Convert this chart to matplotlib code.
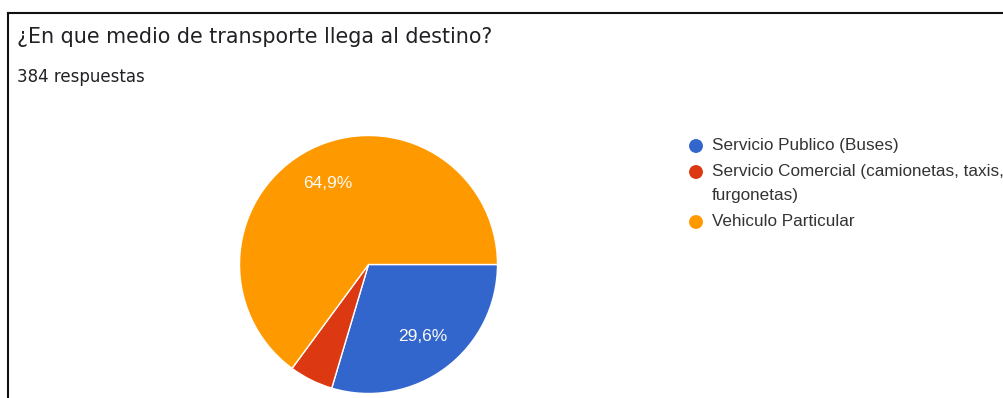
import matplotlib.pyplot as plt
from matplotlib.lines import Line2D

# Datos de la encuesta
categorias = ['Servicio Publico (Buses)',
              'Servicio Comercial (camionetas, taxis,\nfurgonetas)',
              'Vehiculo Particular']
porcentajes = [29.6, 5.5, 64.9]
colores = ['#3366cc', '#dc3912', '#ff9900']

titulo = '¿En que medio de transporte llega al destino?'
subtitulo = '384 respuestas'

W, H = 1004, 398
fig = plt.figure(figsize=(W / 100, H / 100), dpi=100)
ax = fig.add_axes([0, 0, 1, 1])


def etiqueta(p):
    # las porciones pequeñas no llevan texto
    if p < 10:
        return ''
    return f'{p:.1f}%'.replace('.', ',')


cuñas, textos, autotextos = ax.pie(
    porcentajes, colors=colores, center=(368.5, H - 264.5), radius=129,
    startangle=0, counterclock=False, autopct=etiqueta, pctdistance=0.7,
    wedgeprops=dict(edgecolor='white', linewidth=1),
    textprops=dict(color='#fbfbf4', fontsize=12.5, family='Liberation Sans'))

# pie() cambia los límites, se fijan después
ax.set_xlim(0, W)
ax.set_ylim(0, H)
ax.set_aspect('equal')
ax.axis('off')

# marco
ax.add_line(Line2D([8, W], [H - 13, H - 13], color='#111111', lw=1.5))
ax.add_line(Line2D([8, 8], [0, H - 13], color='#111111', lw=1.5))

ax.text(17, H - 43, titulo, fontsize=14.9, family='DejaVu Sans', color='#202124',
        va='baseline', ha='left')
ax.text(17, H - 82, subtitulo, fontsize=12, family='DejaVu Sans', color='#202124',
        va='baseline', ha='left')

# leyenda
y = 146
for cat, c in zip(categorias, colores):
    ax.scatter([696], [H - y], s=100, color=c, edgecolors='none')
    lineas = cat.split('\n')
    for i, lin in enumerate(lineas):
        ax.text(712, H - (y + i * 24), lin, fontsize=12.3, family='Liberation Sans',
                color='#333333', va='center', ha='left')
    y += (len(lineas) - 1) * 24 + 26

fig.savefig('out.png', dpi=100)
